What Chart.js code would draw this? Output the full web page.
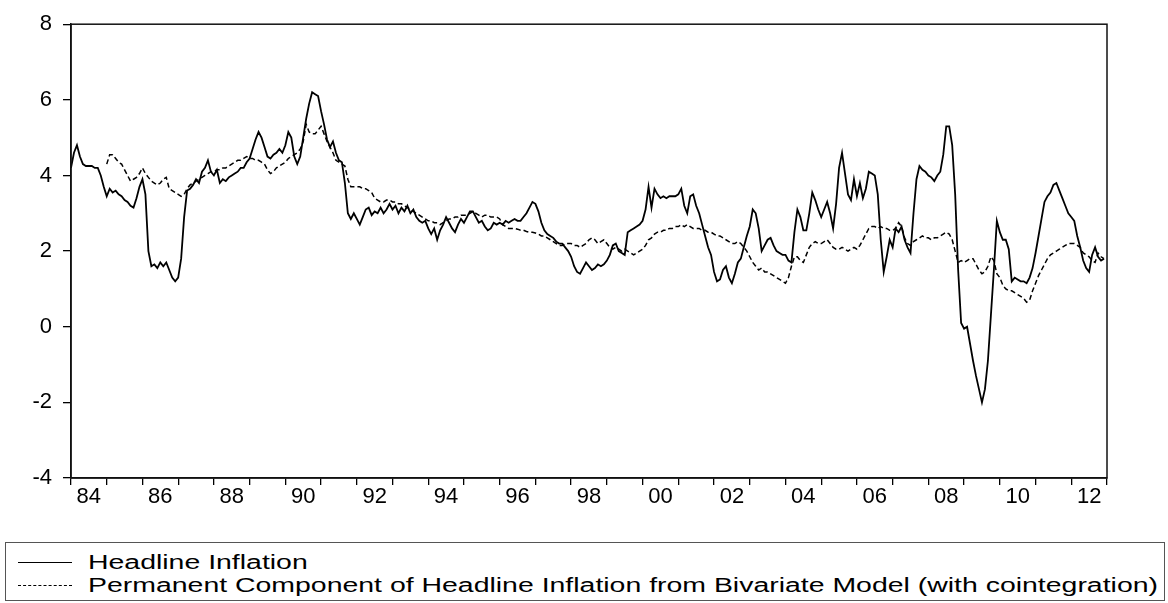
<!DOCTYPE html>
<html>
<head>
<meta charset="utf-8">
<script src="https://cdn.jsdelivr.net/npm/chart.js@4.4.1/dist/chart.umd.min.js"></script>
<style>
  html, body { margin:0; padding:0; background:#fff; }
  #wrap { position:relative; width:1168px; height:603px; overflow:hidden; background:#fff; }
  #plot { position:absolute; left:0; top:0; width:1168px; height:520px; }
  #legend { position:absolute; left:5px; top:542px; width:1158px; height:57px; border:1px solid #555; box-sizing:content-box; }
  .row { position:absolute; left:0; height:22px; white-space:nowrap; }
  .sample { position:absolute; left:12px; width:54px; top:11px; height:0; }
  .solid { border-top:1.5px solid #000; }
  .dash { border-top:1.5px dashed #000; }
  .txt { position:absolute; left:82px; top:0; font-family:"Liberation Sans", Arial, sans-serif; font-size:20px; line-height:22px; color:#000; transform-origin:0 50%; }
</style>
</head>
<body>
<div id="wrap">
  <div id="plot"><canvas id="c" width="1168" height="520"></canvas></div>
  <div id="legend">
    <div class="row" style="top:8px"><div class="sample solid"></div><span class="txt" id="t1"></span></div>
    <div class="row" style="top:31px"><div class="sample dash"></div><span class="txt" id="t2"></span></div>
  </div>
</div>
<script>
// ---- data (monthly, 1984M1 - 2012M12) ----
const startYear = 1984;
const seriesNames = ["Headline Inflation",
  "Permanent Component of Headline Inflation from Bivariate Model (with cointegration)"];
const xTickLabels = ['84','86','88','90','92','94','96','98','00','02','04','06','08','10','12'];
const yTickValues = [-4, -2, 0, 2, 4, 6, 8];

const headline = [
 4.2,4.6,4.8,4.5,4.3,4.25,4.25,4.25,4.2,4.2,4.0,3.7,
 3.45,3.65,3.55,3.6,3.5,3.45,3.35,3.3,3.2,3.15,3.4,3.7,
 3.9,3.5,2.0,1.6,1.65,1.55,1.7,1.6,1.7,1.5,1.3,1.2,
 1.3,1.8,2.9,3.6,3.65,3.75,3.9,3.8,4.1,4.2,4.4,4.1,
 4.0,4.15,3.8,3.9,3.85,3.95,4.0,4.05,4.1,4.2,4.2,4.35,
 4.45,4.7,4.95,5.15,5.0,4.75,4.5,4.45,4.55,4.6,4.7,4.6,
 4.8,5.15,5.0,4.5,4.3,4.5,5.0,5.5,5.9,6.2,6.15,6.1,
 5.7,5.35,4.95,4.75,4.9,4.6,4.4,4.35,3.8,3.0,2.85,3.0,
 2.85,2.7,2.9,3.1,3.15,2.95,3.05,3.0,3.15,3.0,3.1,3.25,
 3.1,3.2,3.0,3.15,3.05,3.2,3.0,3.1,2.9,2.8,2.75,2.8,
 2.6,2.45,2.6,2.3,2.55,2.7,2.9,2.75,2.6,2.5,2.7,2.85,
 2.75,2.9,3.05,3.05,2.9,2.75,2.8,2.65,2.55,2.6,2.75,2.7,
 2.75,2.7,2.8,2.75,2.8,2.85,2.8,2.8,2.9,3.0,3.15,3.3,
 3.25,3.05,2.75,2.55,2.45,2.4,2.35,2.25,2.2,2.2,2.1,2.0,
 1.85,1.6,1.45,1.4,1.55,1.7,1.6,1.5,1.55,1.65,1.6,1.65,
 1.75,1.9,2.15,2.2,2.0,1.95,1.9,2.5,2.55,2.6,2.65,2.7,
 2.8,3.1,3.7,3.15,3.65,3.5,3.4,3.45,3.4,3.45,3.45,3.45,
 3.5,3.65,3.2,3.0,3.45,3.5,3.2,3.0,2.7,2.4,2.1,1.9,
 1.45,1.2,1.25,1.5,1.6,1.3,1.15,1.4,1.7,1.8,2.1,2.4,
 2.65,3.1,3.0,2.6,2.0,2.15,2.3,2.35,2.15,2.0,1.95,1.9,
 1.9,1.75,1.7,2.5,3.1,2.9,2.55,2.55,3.0,3.55,3.35,3.1,
 2.9,3.1,3.3,3.0,2.6,3.25,4.2,4.6,4.05,3.5,3.35,3.9,
 3.45,3.8,3.4,3.65,4.1,4.05,4.0,3.5,2.3,1.45,1.85,2.3,
 2.1,2.6,2.5,2.65,2.3,2.1,1.95,3.0,3.9,4.25,4.15,4.1,
 4.0,3.95,3.85,4.0,4.1,4.55,5.3,5.3,4.8,3.5,1.5,0.1,
 -0.05,0.0,-0.45,-0.9,-1.3,-1.65,-2.0,-1.65,-0.9,0.3,1.5,2.8,
 2.5,2.3,2.3,2.05,1.2,1.3,1.25,1.2,1.2,1.15,1.3,1.55,
 1.95,2.4,2.85,3.3,3.45,3.55,3.75,3.8,3.6,3.4,3.2,3.0,
 2.9,2.8,2.4,2.1,1.75,1.55,1.45,1.9,2.1,1.85,1.75,1.8
];

const permanent = [
 null,null,null,null,null,null,null,null,null,null,null,null,
 4.3,4.55,4.55,4.45,4.35,4.3,4.15,4.0,3.85,3.9,3.95,4.05,
 4.2,4.05,3.95,3.85,3.8,3.75,3.8,3.9,3.95,3.65,3.6,3.55,
 3.5,3.45,3.5,3.65,3.75,3.8,3.85,3.9,3.95,4.0,4.05,4.1,
 4.1,4.15,4.15,4.2,4.2,4.25,4.3,4.35,4.4,4.4,4.45,4.5,
 4.45,4.45,4.4,4.4,4.35,4.3,4.15,4.05,4.1,4.2,4.25,4.3,
 4.35,4.45,4.5,4.55,4.6,4.7,4.9,5.35,5.15,5.1,5.1,5.2,
 5.3,5.1,4.9,4.75,4.6,4.4,4.35,4.3,4.25,3.9,3.7,3.7,
 3.7,3.7,3.65,3.65,3.6,3.55,3.4,3.35,3.3,3.3,3.35,3.35,
 3.3,3.3,3.25,3.25,3.2,3.15,3.1,3.05,3.0,2.95,2.9,2.85,
 2.8,2.8,2.75,2.75,2.7,2.75,2.8,2.85,2.85,2.9,2.9,2.95,
 2.95,2.95,3.0,3.05,3.0,2.95,2.9,2.95,2.95,2.9,2.9,2.9,
 2.85,2.7,2.65,2.6,2.6,2.6,2.58,2.55,2.55,2.52,2.5,2.5,
 2.48,2.45,2.4,2.4,2.35,2.3,2.25,2.2,2.15,2.15,2.2,2.2,
 2.2,2.15,2.15,2.1,2.15,2.2,2.3,2.35,2.3,2.2,2.25,2.3,
 2.2,2.1,2.05,2.1,2.05,2.0,2.05,2.0,1.95,1.9,1.95,2.0,
 2.05,2.15,2.3,2.35,2.45,2.5,2.5,2.55,2.55,2.6,2.6,2.65,
 2.65,2.7,2.65,2.7,2.65,2.6,2.6,2.6,2.55,2.55,2.5,2.5,
 2.45,2.4,2.4,2.35,2.3,2.25,2.2,2.2,2.25,2.2,2.1,2.0,
 1.85,1.7,1.6,1.5,1.55,1.45,1.45,1.4,1.35,1.3,1.25,1.2,
 1.15,1.3,1.6,1.85,1.85,1.75,1.7,1.9,2.1,2.2,2.25,2.2,
 2.2,2.25,2.3,2.2,2.1,2.05,2.05,2.1,2.05,2.0,2.05,2.1,
 2.05,2.15,2.3,2.45,2.6,2.65,2.65,2.6,2.65,2.6,2.6,2.55,
 2.55,2.6,2.75,2.65,2.35,2.2,2.15,2.25,2.3,2.35,2.4,2.35,
 2.35,2.3,2.35,2.35,2.4,2.45,2.5,2.45,2.3,2.0,1.7,1.75,
 1.7,1.75,1.8,1.8,1.65,1.5,1.4,1.45,1.6,1.85,1.75,1.4,
 1.3,1.1,1.0,0.95,0.95,0.9,0.85,0.8,0.75,0.65,0.7,0.95,
 1.15,1.35,1.5,1.65,1.8,1.9,1.95,2.0,2.05,2.1,2.15,2.2,
 2.2,2.2,2.15,2.1,1.95,1.9,1.85,1.75,1.7,1.95,1.85,1.8
];

// ---- build points from arrays ----
const toPoints = arr => arr.map((v, i) => ({ x: startYear + i / 12, y: v }));
const endYear = startYear + Math.ceil(headline.length / 12);

// legend text
document.getElementById('t1').textContent = seriesNames[0];
document.getElementById('t2').textContent = seriesNames[1];

const framePlugin = {
  id: 'frame',
  afterDraw(chart) {
    const { ctx, chartArea: a } = chart;
    ctx.save();
    ctx.strokeStyle = '#111';
    ctx.lineWidth = 1.5;
    ctx.strokeRect(a.left, a.top, a.right - a.left, a.bottom - a.top);
    ctx.restore();
  }
};

const tickFont = { family: '"Liberation Sans", Arial, sans-serif', size: 22 };

new Chart(document.getElementById('c'), {
  type: 'line',
  data: {
    datasets: [
      { label: seriesNames[0], data: toPoints(headline), borderColor: '#000', borderWidth: 1.8,
        pointRadius: 0, tension: 0, fill: false },
      { label: seriesNames[1], data: toPoints(permanent), borderColor: '#000', borderWidth: 1.5,
        borderDash: [5, 3], pointRadius: 0, tension: 0, fill: false, spanGaps: false }
    ]
  },
  options: {
    responsive: false,
    devicePixelRatio: 1,
    animation: false,
    events: [],
    layout: { padding: { top: 17, right: 61, left: 0, bottom: 0 } },
    plugins: { legend: { display: false }, tooltip: { enabled: false } },
    scales: {
      x: {
        type: 'linear', min: startYear, max: endYear,
        afterFit: s => { s.height = 42; },
        afterBuildTicks: s => {
          const t = [];
          for (let y = startYear; y <= endYear; y++) t.push({ value: y });
          s.ticks = t;
        },
        ticks: {
          autoSkip: false, maxRotation: 0, minRotation: 0, padding: -1,
          labelOffset: 17.85, color: '#000', font: tickFont,
          callback: v => {
            const k = v - startYear;
            return (k % 2 === 0 && k / 2 < xTickLabels.length) ? xTickLabels[k / 2] : '';
          }
        },
        grid: { display: true, drawOnChartArea: false, drawTicks: true, tickLength: 7,
                color: '#000', lineWidth: 1.3 },
        border: { display: true, color: '#111', width: 1.5 }
      },
      y: {
        type: 'linear', min: yTickValues[0], max: yTickValues[yTickValues.length - 1],
        afterFit: s => { s.width = 71; },
        afterBuildTicks: s => { s.ticks = yTickValues.map(v => ({ value: v })); },
        ticks: { padding: 11, color: '#000', font: tickFont, callback: v => String(v) },
        grid: { display: true, drawOnChartArea: false, drawTicks: true, tickLength: 8,
                color: '#000', lineWidth: 1.3 },
        border: { display: true, color: '#111', width: 1.5 }
      }
    }
  },
  plugins: [framePlugin]
});

// stretch legend text horizontally like the reference
(function fitLegend() {
  const t2 = document.getElementById('t2');
  const t1 = document.getElementById('t1');
  const w = t2.getBoundingClientRect().width;
  const k = 1070 / w;
  t1.style.transform = 'scaleX(' + k + ')';
  t2.style.transform = 'scaleX(' + k + ')';
})();
</script>
</body>
</html>
